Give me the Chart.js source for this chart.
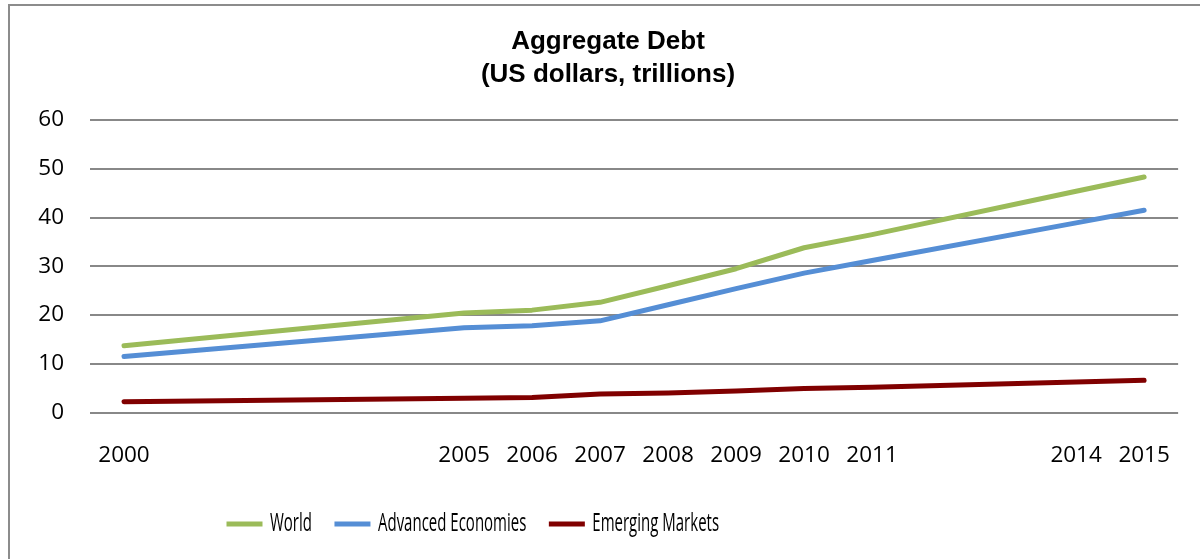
<!DOCTYPE html>
<html>
<head>
<meta charset="utf-8">
<script src="https://cdn.jsdelivr.net/npm/chart.js@4"></script>
<style>
  html, body { margin: 0; padding: 0; background: #ffffff; overflow: hidden; }
  #frame { position: absolute; left: 8px; top: 4px; width: 1300px; height: 700px;
           border-left: 2px solid #8c8c8c; border-top: 2px solid #8c8c8c; }
  #wrap { position: absolute; left: 0; top: 0; width: 1200px; height: 559px; }
</style>
</head>
<body>
<div id="frame"></div>
<div id="wrap"><canvas id="c" width="1200" height="559"></canvas></div>
<script>
// ---- data ----
const years = ['2000','','','','','2005','2006','2007','2008','2009','2010','2011','','','2014','2015'];
const world    = [13.7, null, null, null, null, 20.4, 21.0, 22.6, 26.0, 29.5, 33.8, 36.5, null, null, 45.4, 48.3];
const advanced = [11.5, null, null, null, null, 17.4, 17.8, 18.8, 22.1, 25.4, 28.6, 31.2, null, null, 38.9, 41.5];
const emerging = [2.2,  null, null, null, null, 2.9,  3.1,  3.8,  4.0,  4.4,  4.9,  5.2,  null, null, 6.25, 6.6];
const seriesNames = ['World', 'Advanced Economies', 'Emerging Markets'];
const titleLines = ['Aggregate Debt', '(US dollars, trillions)'];
const yTicks = { min: 0, max: 60, step: 10 };

const colors = ['#9BBB59', '#558ED5', '#800000'];

// legend: condensed horizontally (reference uses a narrow face)
const LEGEND_X = 226.5;      // where the first sample starts
const LEGEND_CY = 524;       // vertical centre of legend row
const LEGEND_SX = 0.6;       // horizontal condensing
const LEGEND_FONT = 25;
const LEGEND_PAD = 37.5;

const legendShift = {
  id: 'legendShift',
  afterLayout(chart) {
    const lg = chart.legend;
    if (!lg) return;
    const pad = lg.options.labels.padding;
    lg.left = LEGEND_X - pad;
    const wantTop = LEGEND_CY - pad - LEGEND_FONT / 2;
    const dy = wantTop - lg.top;
    lg.top += dy;
    lg.bottom += dy;
    if (!lg._condensed) {
      const orig = lg.draw.bind(lg);
      lg.draw = function (area) {
        const ctx = this.ctx;
        ctx.save();
        ctx.translate(LEGEND_X, 0);
        ctx.scale(LEGEND_SX, 1);
        ctx.translate(-LEGEND_X, 0);
        orig(area);
        ctx.restore();
      };
      lg._condensed = true;
    }
  }
};

function ds(label, data, color) {
  return {
    label, data,
    borderColor: color, backgroundColor: color,
    borderWidth: 5, pointRadius: 0, pointHoverRadius: 0,
    tension: 0, spanGaps: true,
    borderCapStyle: 'round', borderJoinStyle: 'round',
    fill: false
  };
}

new Chart(document.getElementById('c'), {
  type: 'line',
  data: {
    labels: years,
    datasets: [
      ds(seriesNames[0], world, colors[0]),
      ds(seriesNames[1], advanced, colors[1]),
      ds(seriesNames[2], emerging, colors[2])
    ]
  },
  plugins: [legendShift],
  options: {
    responsive: false,
    animation: false,
    layout: { padding: { left: 37, right: 21, top: 0, bottom: 0 } },
    plugins: {
      title: {
        display: true,
        text: titleLines,
        color: '#000000',
        font: { family: '"Liberation Sans", Arial, sans-serif', size: 26, weight: 'bold', lineHeight: 1.27 },
        padding: { top: 25.5, bottom: 28.5 }
      },
      legend: {
        position: 'bottom',
        align: 'start',
        labels: {
          color: '#000000',
          font: { family: '"Open Sans", sans-serif', size: LEGEND_FONT },
          usePointStyle: true,
          pointStyle: 'line',
          pointStyleWidth: 36 / LEGEND_SX,
          boxHeight: 5,
          padding: LEGEND_PAD
        }
      },
      tooltip: { enabled: false }
    },
    scales: {
      x: {
        type: 'category',
        offset: true,
        grid: { display: false, drawTicks: false },
        border: { display: false },
        ticks: {
          autoSkip: false, maxRotation: 0, minRotation: 0,
          color: '#000000', padding: 29.5,
          font: { family: '"Open Sans", sans-serif', size: 22.5 }
        },
        afterFit(scale) { scale.height = 74; }
      },
      y: {
        min: yTicks.min, max: yTicks.max,
        grid: { color: '#888888', lineWidth: 2, drawTicks: false },
        border: { display: false },
        ticks: {
          stepSize: yTicks.step, color: '#000000', padding: 26,
          font: { family: '"Open Sans", sans-serif', size: 22.5 }
        },
        afterFit(scale) { scale.width = 53; }
      }
    }
  }
});
</script>
</body>
</html>
